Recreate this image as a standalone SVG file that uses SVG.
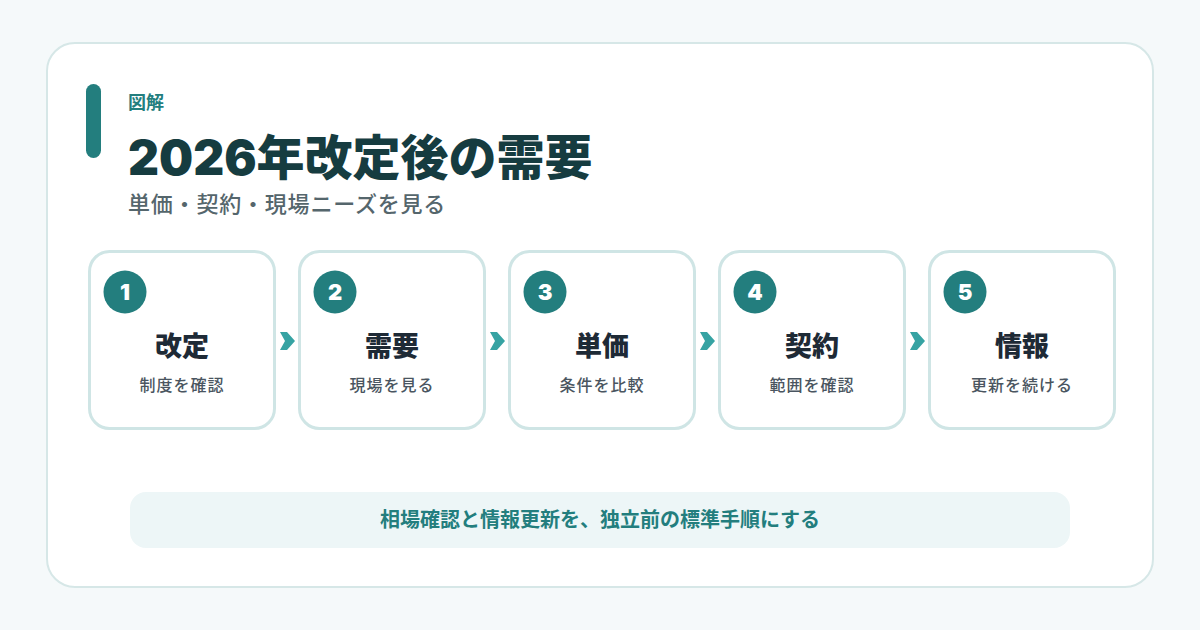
<svg xmlns="http://www.w3.org/2000/svg" width="1200" height="630" viewBox="0 0 1200 630">
<style>
.jp{font-family:"Noto Sans CJK JP","Noto Sans",sans-serif}
.card{fill:#ffffff;stroke:#cfe5e5;stroke-width:3}
.badge{fill:#237e7e}
.num{font-family:Inter,"Noto Sans",sans-serif;font-weight:900;font-size:22px;fill:#ffffff;text-anchor:middle}
.ttl{font-family:"Noto Sans CJK JP",sans-serif;font-weight:900;font-size:27px;fill:#1e2a36;text-anchor:middle}
.sub{font-family:"Noto Sans CJK JP",sans-serif;font-weight:500;font-size:16px;letter-spacing:1px;fill:#4a5560;text-anchor:middle}
.arr{fill:#36a3a3}
</style>
<rect width="1200" height="630" fill="#f5f9fa"/>
<rect x="47" y="43" width="1106" height="544" rx="28" fill="#ffffff" stroke="#d6e7e7" stroke-width="2"/>
<g id="header">
<rect x="86" y="84" width="15" height="74" rx="7.5" fill="#237e7e"/>
<text x="128" y="109" class="jp" font-size="18" font-weight="700" fill="#237e7e">図解</text>
<text x="128" y="175" font-family="Inter, Noto Sans CJK JP, sans-serif" font-size="48" font-weight="900" fill="#163c40">2026年改定後の需要</text>
<text x="128" y="212" class="jp" font-size="22" font-weight="500" letter-spacing="0.8" fill="#55666c">単価・契約・現場ニーズを見る</text>
</g>
<g id="connectors">
<polygon class="arr" points="280,332 287,332 295,341 287,350 280,350 285,341"/>
<polygon class="arr" points="490,332 497,332 505,341 497,350 490,350 495,341"/>
<polygon class="arr" points="700,332 707,332 715,341 707,350 700,350 705,341"/>
<polygon class="arr" points="910,332 917,332 925,341 917,350 910,350 915,341"/>
</g>
<g id="node1">
<rect class="card" x="89.5" y="251.5" width="185" height="177" rx="20"/>
<circle class="badge" cx="125" cy="292" r="21.5"/>
<text class="num" x="125" y="300">1</text>
<text class="ttl" x="182" y="356">改定</text>
<text class="sub" x="182" y="391">制度を確認</text>
</g>
<g id="node2">
<rect class="card" x="299.5" y="251.5" width="185" height="177" rx="20"/>
<circle class="badge" cx="335" cy="292" r="21.5"/>
<text class="num" x="335" y="300">2</text>
<text class="ttl" x="392" y="356">需要</text>
<text class="sub" x="392" y="391">現場を見る</text>
</g>
<g id="node3">
<rect class="card" x="509.5" y="251.5" width="185" height="177" rx="20"/>
<circle class="badge" cx="545" cy="292" r="21.5"/>
<text class="num" x="545" y="300">3</text>
<text class="ttl" x="602" y="356">単価</text>
<text class="sub" x="602" y="391">条件を比較</text>
</g>
<g id="node4">
<rect class="card" x="719.5" y="251.5" width="185" height="177" rx="20"/>
<circle class="badge" cx="755" cy="292" r="21.5"/>
<text class="num" x="755" y="300">4</text>
<text class="ttl" x="812" y="356">契約</text>
<text class="sub" x="812" y="391">範囲を確認</text>
</g>
<g id="node5">
<rect class="card" x="929.5" y="251.5" width="185" height="177" rx="20"/>
<circle class="badge" cx="965" cy="292" r="21.5"/>
<text class="num" x="965" y="300">5</text>
<text class="ttl" x="1022" y="356">情報</text>
<text class="sub" x="1022" y="391">更新を続ける</text>
</g>
<g id="banner">
<rect x="130" y="492" width="940" height="56" rx="16" fill="#edf6f7"/>
<text x="600" y="527" class="jp" font-size="20" font-weight="700" fill="#237e7e" text-anchor="middle">相場確認と情報更新を、独立前の標準手順にする</text>
</g>
</svg>
